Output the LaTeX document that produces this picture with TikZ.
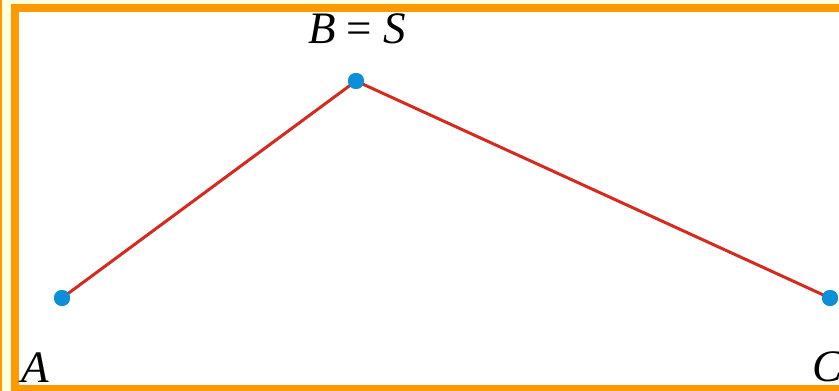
\documentclass[tikz,border=0pt]{standalone}
\usepackage{fontspec}
\setmainfont{Liberation Serif}
\definecolor{frameorange}{HTML}{FF9900}
\definecolor{paleyellow}{HTML}{FFFFE0}
\definecolor{segred}{HTML}{D42A20}
\definecolor{dotblue}{HTML}{0A8FD8}
\begin{document}
\begin{tikzpicture}[x=1pt,y=-1pt,
  seg/.style={draw=segred,line width=3pt},
  pt/.style={circle,fill=dotblue,inner sep=0pt,minimum size=16pt},
  lbl/.style={font=\fontsize{45}{50}\selectfont\itshape,inner sep=0pt}]
\useasboundingbox (0,0) rectangle (839,391);
\clip (0,0) rectangle (839,391);
\fill[paleyellow] (0,0) rectangle (839,391);
\fill[frameorange] (0,0) rectangle (2,391);
\draw[frameorange,line width=8pt,fill=white] (15,8) rectangle (860,389);
\node[pt] (A) at (62,298) {};
\node[pt] (B) at (356,81) {};
\node[pt] (C) at (830,298) {};
\draw[seg] (A.center) -- (B.center) -- (C.center);
\node[pt] at (A) {};
\node[pt] at (B) {};
\node[pt] at (C) {};
\node[lbl,anchor=base] (lB) at (357,43) {B {\upshape=} S};
\node[lbl,anchor=base west] (lA) at (21,382) {A};
\node[lbl,anchor=base west] (lC) at (812,381) {C};
\end{tikzpicture}
\end{document}
